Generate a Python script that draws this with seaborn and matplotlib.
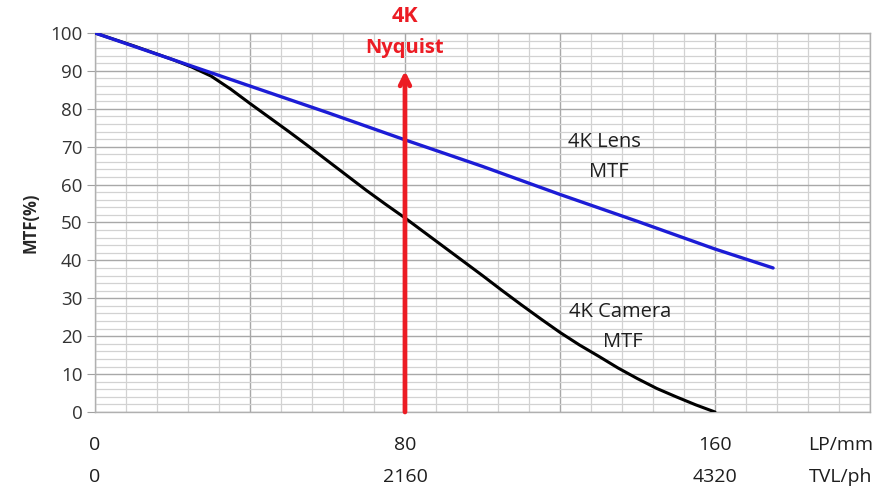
import numpy as np
import pandas as pd
import matplotlib
matplotlib.use("Agg")
import matplotlib.pyplot as plt
from matplotlib.ticker import MultipleLocator
import seaborn as sns

# ------------------------------------------------------------------
# data (x in LP/mm, y in MTF %)
# ------------------------------------------------------------------
lens_lp   = [0, 20, 40, 60, 80, 100, 120, 140, 160, 175]
lens_mtf  = [100, 93, 86, 79, 71.8, 64.8, 57.4, 50.3, 43, 38]

cam_lp    = [0, 5, 10, 15, 20, 25, 30, 35, 40, 45, 50, 55, 60, 65, 70, 75, 80,
             85, 90, 95, 100, 105, 110, 115, 120, 125, 130, 135, 140, 145, 150, 155, 160]
cam_mtf   = [100, 98.3, 96.6, 94.8, 93.0, 91.0, 88.6, 85.2, 81.4, 77.7, 74.0, 70.2,
             66.3, 62.4, 58.5, 54.8, 51.2, 47.4, 43.6, 39.8, 36.0, 32.1, 28.3, 24.6,
             21.0, 17.7, 14.7, 11.6, 8.8, 6.2, 4.0, 1.9, 0]

nyquist_lp  = 80
nyquist_top = 90

lp_ticks   = [0, 80, 160]
tvl_labels = ["0", "2160", "4320"]

# ------------------------------------------------------------------
# style
# ------------------------------------------------------------------
sns.set_style("white")
plt.rcParams["font.family"] = ["Open Sans", "DejaVu Sans"]

BLUE = "#1c1cd6"
RED  = "#ec1c24"
TXT  = "#1e1e1e"

fig = plt.figure(figsize=(8.91, 4.90), dpi=100)
ax = fig.add_axes([0.1066, 0.1592, 0.8698, 0.7735])

df_lens = pd.DataFrame({"lp": lens_lp, "mtf": lens_mtf})
df_cam  = pd.DataFrame({"lp": cam_lp, "mtf": cam_mtf})

sns.lineplot(data=df_cam, x="lp", y="mtf", ax=ax, color="black", lw=2.2, zorder=3)
sns.lineplot(data=df_lens, x="lp", y="mtf", ax=ax, color=BLUE, lw=2.4, zorder=4)

ax.set_xlim(0, 200)
ax.set_ylim(0, 100)

# grid: dense minor lines, darker major ones
ax.xaxis.set_major_locator(MultipleLocator(40))
ax.xaxis.set_minor_locator(MultipleLocator(8))
ax.yaxis.set_major_locator(MultipleLocator(10))
ax.yaxis.set_minor_locator(MultipleLocator(2))
ax.grid(which="minor", color="#d2d2d2", lw=0.9)
ax.grid(which="major", color="#a8a8a8", lw=1.0)
ax.set_axisbelow(True)

ax.tick_params(axis="x", which="both", bottom=False, labelbottom=False)
ax.tick_params(axis="y", which="major", left=True, length=6, color="#a0a0a0",
               labelsize=13.5, labelcolor="#333333", pad=3)
ax.tick_params(axis="y", which="minor", left=False)

for side in ["top", "right", "bottom", "left"]:
    ax.spines[side].set_color("#b0b0b0")
    ax.spines[side].set_linewidth(1.0)

ax.set_xlabel("")
ax.set_ylabel("MTF(%)", fontsize=12, fontweight="bold", labelpad=8)

# custom two-row x labels
xt = ax.get_xaxis_transform()
for lp, tvl in zip(lp_ticks, tvl_labels):
    ax.text(lp, -0.087, str(lp), transform=xt, ha="center", va="center",
            fontsize=14, color=TXT)
    ax.text(lp, -0.171, tvl, transform=xt, ha="center", va="center",
            fontsize=14, color=TXT)
ax.text(192.5, -0.087, "LP/mm", transform=xt, ha="center", va="center",
        fontsize=14, color=TXT, clip_on=False)
ax.text(192.5, -0.171, "TVL/ph", transform=xt, ha="center", va="center",
        fontsize=14, color=TXT, clip_on=False)

# Nyquist arrow
ax.annotate("", xy=(nyquist_lp, nyquist_top), xytext=(nyquist_lp, 0),
            arrowprops=dict(arrowstyle="->,head_length=0.7,head_width=0.35",
                            color=RED, lw=3.4, shrinkA=0, shrinkB=0),
            zorder=5)
ax.text(nyquist_lp, 104.3, "4K", ha="center", va="center", color=RED,
        fontsize=15.5, fontweight="bold", clip_on=False)
ax.text(nyquist_lp, 96.0, "Nyquist", ha="center", va="center", color=RED,
        fontsize=14.5, fontweight="bold")

# curve labels
ax.text(131.6, 71.2, "4K Lens", ha="center", va="center", fontsize=14.5, color=TXT)
ax.text(132.5, 63.3, "MTF", ha="center", va="center", fontsize=14.5, color=TXT)
ax.text(135.5, 26.4, "4K Camera", ha="center", va="center", fontsize=14.5, color=TXT)
ax.text(136.3, 18.5, "MTF", ha="center", va="center", fontsize=14.5, color=TXT)

fig.savefig("out.png", dpi=100)
